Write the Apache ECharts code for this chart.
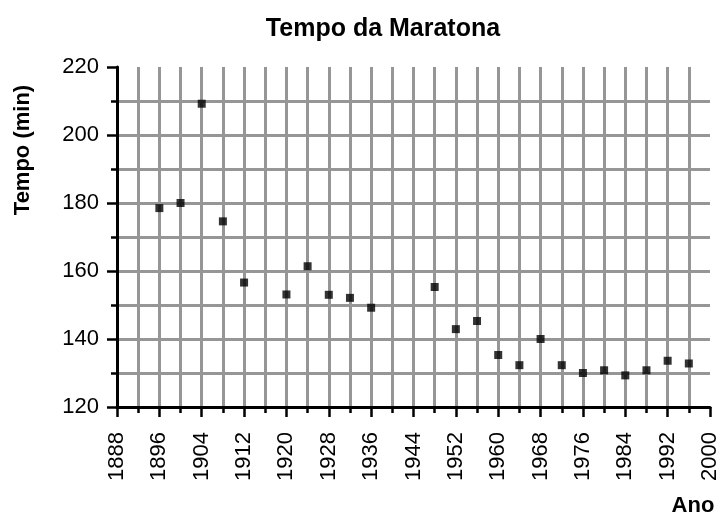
<!DOCTYPE html>
<html>
<head>
<meta charset="utf-8">
<script src="https://cdn.jsdelivr.net/npm/echarts@6/dist/echarts.min.js"></script>
<style>html,body{margin:0;padding:0;background:#fff}#chart{width:721px;height:516px}</style>
</head>
<body>
<div id="chart"></div>
<script>
const years = [1896, 1900, 1904, 1908, 1912, 1920, 1924, 1928, 1932, 1936, 1948, 1952, 1956, 1960, 1964, 1968, 1972, 1976, 1980, 1984, 1988, 1992, 1996];
const times = [178.5, 180.0, 209.2, 174.6, 156.6, 153.1, 161.4, 153.0, 152.1, 149.2, 155.3, 142.9, 145.3, 135.3, 132.3, 140.0, 132.3, 130.0, 130.8, 129.3, 130.8, 133.6, 132.8];
const titleText = 'Tempo da Maratona';
const yName = 'Tempo (min)';
const xName = 'Ano';

const font = '"Liberation Sans", Arial, sans-serif';
const gridColor = '#969696';
const chart = echarts.init(document.getElementById('chart'), null, {renderer: 'canvas'});
chart.setOption({
  backgroundColor: '#fff',
  animation: false,
  title: {
    text: titleText, left: 378, top: 12, textAlign: 'center',
    textStyle: {fontFamily: font, fontWeight: 'bold', fontSize: 25, color: '#000'}
  },
  graphic: [
    {type: 'text', x: 23, y: 150, rotation: Math.PI / 2,
     style: {text: yName, font: 'bold 22px ' + font, fill: '#000', textAlign: 'center', textVerticalAlign: 'middle'}},
    {type: 'text', x: 693, y: 506,
     style: {text: xName, font: 'bold 22px ' + font, fill: '#000', textAlign: 'center', textVerticalAlign: 'middle'}}
  ],
  grid: {left: 117, top: 67, right: 11, bottom: 109, containLabel: false},
  xAxis: {
    type: 'value', min: 1888, max: 2000, interval: 8,
    axisLine: {lineStyle: {color: '#000', width: 3}},
    axisTick: {length: 10, lineStyle: {color: '#000', width: 2.5}},
    minorTick: {show: true, splitNumber: 2, length: 6, lineStyle: {color: '#000', width: 2.5}},
    splitLine: {show: true, showMinLine: false, showMaxLine: false, lineStyle: {color: gridColor, width: 3}},
    minorSplitLine: {show: true, lineStyle: {color: gridColor, width: 3}},
    axisLabel: {rotate: 90, margin: 25, fontFamily: font, fontSize: 22, color: '#000',
      formatter: v => String(v)}
  },
  yAxis: {
    type: 'value', min: 120, max: 220, interval: 20,
    axisLine: {show: true, lineStyle: {color: '#000', width: 3}},
    axisTick: {show: true, length: 10, lineStyle: {color: '#000', width: 2.5}},
    minorTick: {show: true, splitNumber: 2, length: 6, lineStyle: {color: '#000', width: 2.5}},
    splitLine: {show: true, showMinLine: false, showMaxLine: false, lineStyle: {color: gridColor, width: 3}},
    minorSplitLine: {show: true, lineStyle: {color: gridColor, width: 3}},
    axisLabel: {margin: 18, fontFamily: font, fontSize: 22, color: '#000'}
  },
  series: [{
    type: 'scatter', symbol: 'rect', symbolSize: 8,
    itemStyle: {color: '#000'},
    data: years.map((y, i) => [y, times[i]])
  }]
});
</script>
</body>
</html>
